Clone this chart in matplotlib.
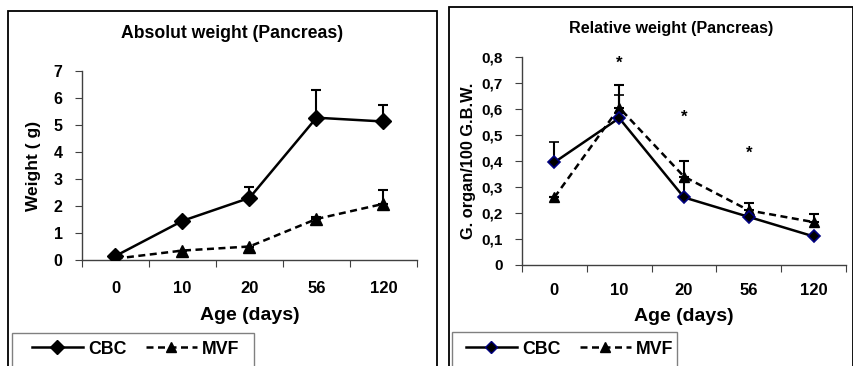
import numpy as np
import matplotlib
matplotlib.use('Agg')
import matplotlib.pyplot as plt
from matplotlib.patches import Rectangle
from matplotlib.lines import Line2D

plt.rcParams['font.family'] = ['Liberation Sans', 'DejaVu Sans']
plt.rcParams['font.weight'] = 'bold'

ages = ['0', '10', '20', '56', '120']

# absolute weight (g)
abs_cbc = [0.15, 1.45, 2.3, 5.27, 5.13]
abs_cbc_err = [0, 0, 0.4, 1.03, 0.6]
abs_mvf = [0.05, 0.35, 0.5, 1.52, 2.08]
abs_mvf_err = [0, 0, 0, 0.08, 0.52]

# relative weight (g organ / 100 g body weight)
rel_cbc = [0.395, 0.565, 0.26, 0.185, 0.11]
rel_cbc_err = [0.077, 0.09, 0.06, 0, 0]
rel_mvf = [0.26, 0.605, 0.34, 0.21, 0.165]
rel_mvf_err = [0, 0.088, 0.06, 0.03, 0.03]

stars_x = [1, 2, 3]
stars_y = [0.775, 0.57, 0.43]

W, H = 854, 366
fig = plt.figure(figsize=(W / 100, H / 100), dpi=100)


def px(x, y):
    return x / W, 1 - y / H


def axes_px(x0, y0, x1, y1):
    return fig.add_axes([x0 / W, 1 - y1 / H, (x1 - x0) / W, (y1 - y0) / H])


# panel frames (run off the bottom of the image)
fig.patches.append(Rectangle(px(8, 420), 429 / W, 409 / H, transform=fig.transFigure,
                             fill=False, ec='black', lw=1.3, clip_on=False))
fig.patches.append(Rectangle(px(449, 420), 404 / W, 413 / H, transform=fig.transFigure,
                             fill=False, ec='black', lw=1.3, clip_on=False))


def style_axes(ax, ymax, yticks, ylabels, ysize, xpad):
    x = np.arange(len(ages))
    ax.set_xlim(-0.5, 4.5)
    ax.set_ylim(0, ymax)
    for s in ['top', 'right']:
        ax.spines[s].set_visible(False)
    for s in ['left', 'bottom']:
        ax.spines[s].set_color('#404040')
        ax.spines[s].set_linewidth(1)
    ax.set_xticks(np.arange(-0.5, 5, 1))
    ax.set_xticklabels([])
    ax.set_xticks(x, minor=True)
    ax.set_xticklabels(ages, minor=True, fontsize=12, fontweight='bold')
    ax.tick_params(axis='x', which='major', length=5, color='#404040', direction='out')
    ax.tick_params(axis='x', which='minor', length=0, pad=xpad)
    ax.set_yticks(yticks)
    ax.set_yticklabels(ylabels, fontsize=ysize, fontweight='bold')
    ax.tick_params(axis='y', length=5, color='#404040', pad=9)


# ---- left: absolute weight
ax1 = axes_px(82, 71, 417, 260)
x = np.arange(len(ages))
ax1.errorbar(x, abs_cbc, yerr=[np.zeros(5), abs_cbc_err], color='black', lw=1.8,
             marker='D', ms=8, mfc='black', mec='black', capsize=3.5, elinewidth=1.5,
             capthick=1.5, zorder=3)
ax1.errorbar(x, abs_mvf, yerr=[np.zeros(5), abs_mvf_err], color='black', lw=1.8,
             ls=(0, (2.8, 1.8)), marker='^', ms=9, mfc='black', mec='black',
             capsize=3.5, elinewidth=1.5, capthick=1.5, zorder=3)
style_axes(ax1, 7, range(8), [str(i) for i in range(8)], 11.5, 15)
ax1.set_ylabel('Weight ( g)', fontsize=12.5, fontweight='bold', labelpad=9)
ax1.set_xlabel('Age (days)', fontsize=14, fontweight='bold', labelpad=8)
fig.text(*px(232, 33), 'Absolut weight (Pancreas)', ha='center', va='center',
         fontsize=12.7, fontweight='bold')

# ---- right: relative weight
ax2 = axes_px(522, 57, 846, 265)
ax2.errorbar(x, rel_cbc, yerr=[np.zeros(5), rel_cbc_err], color='black', lw=1.8,
             marker='D', ms=6.5, mfc='black', mec='#000080', mew=1.2, capsize=3.5,
             elinewidth=1.5, capthick=1.5, zorder=4)
ax2.errorbar(x, rel_mvf, yerr=[np.zeros(5), rel_mvf_err], color='black', lw=1.8,
             ls=(0, (2.8, 1.8)), marker='^', ms=7.5, mfc='black', mec='black',
             capsize=3.5, elinewidth=1.5, capthick=1.5, zorder=3)
yt = np.round(np.arange(0, 0.81, 0.1), 1)
style_axes(ax2, 0.8, yt, ['0'] + [('%.1f' % v).replace('.', ',') for v in yt[1:]], 11, 13)
ax2.set_ylabel('G. organ/100 G.B.W.', fontsize=11.8, fontweight='bold', labelpad=4)
ax2.set_xlabel('Age (days)', fontsize=14, fontweight='bold', labelpad=7)
for sx, sy in zip(stars_x, stars_y):
    ax2.text(sx, sy, '*', ha='center', va='center', fontsize=12, fontweight='bold')
fig.text(*px(671, 29), 'Relative weight (Pancreas)', ha='center', va='center',
         fontsize=11.6, fontweight='bold')


# ---- legends
def legend_box(x0, y0, x1, off, cbc_mec, cbc_ms):
    fig.patches.append(Rectangle(px(x0, 420), (x1 - x0) / W, (420 - y0) / H,
                                 transform=fig.transFigure, fill=False, ec='#808080',
                                 lw=1, clip_on=False))
    h1 = Line2D([], [], color='black', lw=1.8, marker='D', ms=cbc_ms, mfc='black',
                mec=cbc_mec)
    h2 = Line2D([], [], color='black', lw=1.8, ls=(0, (2.8, 1.8)), marker='^', ms=7,
                mfc='black', mec='black')
    fig.legend([h1, h2], ['CBC', 'MVF'], loc='center left',
               bbox_to_anchor=px(x0 + off, 349), ncol=2, frameon=False,
               prop={'weight': 'bold', 'size': 12.8},
               handlelength=2.85, handletextpad=0.3, columnspacing=1.1,
               borderpad=0, borderaxespad=0)


legend_box(12, 333, 254, 20, 'black', 7)
legend_box(452, 332, 677, 14, '#000080', 6)

fig.savefig('out.png', dpi=100)
